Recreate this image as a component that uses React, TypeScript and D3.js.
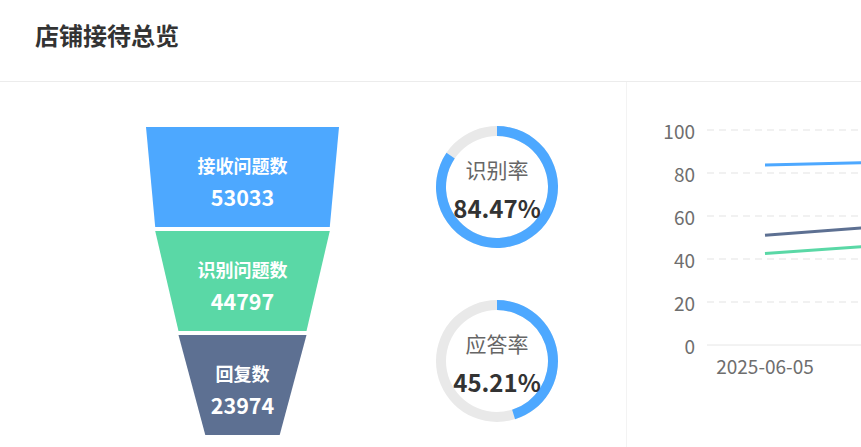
import React from 'react';
import * as d3 from 'd3';

// funnel data
const funnelLabels = ['接收问题数', '识别问题数', '回复数'];
const funnelValues = [53033, 44797, 23974];
const funnelColors = ['#4da8ff', '#5ad8a6', '#5d7092'];

// rate gauges
const gaugeLabels = ['识别率', '应答率'];
const gaugeValues = [84.47, 45.21];

// trend lines (second date sits outside the visible panel)
const dates = ['2025-06-05', '2025-06-06'];
const blueSeries = [83.7, 86.3];
const darkSeries = [51.0, 59.2];
const greenSeries = [42.6, 50.1];
const yTicks = [0, 20, 40, 60, 80, 100];

const W = 861;
const H = 447;
const font = '"Noto Sans CJK SC", "Noto Sans", sans-serif';

const App: React.FC = () => {
  // funnel scales
  const funnelY = d3.scaleBand<string>()
    .domain(funnelLabels)
    .range([127, 435])
    .paddingInner(4 / 104)
    .paddingOuter(0);
  const funnelW = d3.scaleLinear().domain([0, d3.max(funnelValues) as number]).range([74.4, 193]);
  const cx = 242.5;

  const pieces = funnelLabels.map((label, i) => {
    const top = funnelY(label) as number;
    const bottom = top + funnelY.bandwidth();
    const wTop = funnelW(funnelValues[i]);
    const wBot = funnelW(i + 1 < funnelValues.length ? funnelValues[i + 1] : 0);
    const pts: [number, number][] = [
      [cx - wTop / 2, top], [cx + wTop / 2, top],
      [cx + wBot / 2, bottom], [cx - wBot / 2, bottom],
    ];
    return { label, value: funnelValues[i], color: funnelColors[i], pts, mid: (top + bottom) / 2 };
  });

  // gauges
  const gaugeCenters = [187, 361];
  const arc = d3.arc<{ endAngle: number }>()
    .innerRadius(51)
    .outerRadius(61)
    .startAngle(0)
    .endAngle(d => d.endAngle);
  const rate = d3.scaleLinear().domain([0, 100]).range([0, 2 * Math.PI]);

  // line chart
  const axisLeft = 707;
  const x = d3.scalePoint<string>().domain(dates).range([765, 997]);
  const y = d3.scaleLinear().domain([0, 100]).range([345, 130]);
  const line = d3.line<number>()
    .x((_, i) => x(dates[i]) as number)
    .y(d => y(d));
  const lines = [
    { data: blueSeries, color: '#4da8ff' },
    { data: darkSeries, color: '#5d7092' },
    { data: greenSeries, color: '#5ad8a6' },
  ];
  // only labels that fit inside the visible panel
  const visibleDates = dates.filter(d => (x(d) as number) + 50 < W);

  return (
    <div style={{ position: 'absolute', left: 0, top: 0, width: W, height: H, overflow: 'hidden', background: '#fff' }}>
      <svg width={W} height={H} style={{ display: 'block', fontFamily: font }}>
        <text x={35} y={34} fontSize={24} fontWeight={700} fill="#333" dominantBaseline="central">店铺接待总览</text>
        <line x1={0} x2={W} y1={81.5} y2={81.5} stroke="#ececec" />
        <line x1={626.5} x2={626.5} y1={82} y2={H} stroke="#f3f3f3" />

        {pieces.map(p => (
          <g key={p.label}>
            <polygon points={p.pts.map(d => d.join(',')).join(' ')} fill={p.color} />
            <text x={cx} y={p.mid - 12} textAnchor="middle" dominantBaseline="central" fill="#fff" fontSize={18} fontWeight={700}>{p.label}</text>
            <text x={cx} y={p.mid + 19.5} textAnchor="middle" dominantBaseline="central" fill="#fff" fontSize={21.5} fontWeight={700}>{p.value}</text>
          </g>
        ))}

        {gaugeValues.map((v, i) => (
          <g key={gaugeLabels[i]} transform={`translate(497,${gaugeCenters[i]})`}>
            <path d={arc({ endAngle: 2 * Math.PI }) as string} fill="#e9e9e9" />
            <path d={arc({ endAngle: rate(v) }) as string} fill="#4da8ff" />
            <text y={-18} textAnchor="middle" dominantBaseline="central" fill="#666" fontSize={21}>{gaugeLabels[i]}</text>
            <text y={20} textAnchor="middle" dominantBaseline="central" fill="#333" fontSize={24} fontWeight={600}>{v.toFixed(2)}%</text>
          </g>
        ))}

        <g>
          {yTicks.map(t => (
            <g key={t}>
              {t === 0
                ? <line x1={axisLeft} x2={W} y1={y(t)} y2={y(t)} stroke="#e6e6e6" />
                : <line x1={axisLeft} x2={W} y1={y(t)} y2={y(t)} stroke="#e3e3e3" strokeDasharray="7,5" />}
              <text x={695} y={y(t)} textAnchor="end" dominantBaseline="central" fill="#6e6e6e" fontSize={19}>{t}</text>
            </g>
          ))}
          {visibleDates.map(d => (
            <text key={d} x={x(d) as number} y={365} textAnchor="middle" dominantBaseline="central" fill="#6e6e6e" fontSize={19}>{d}</text>
          ))}
          {lines.map(l => (
            <path key={l.color} d={line(l.data) as string} fill="none" stroke={l.color} strokeWidth={3} />
          ))}
        </g>
      </svg>
    </div>
  );
};

export default App;
